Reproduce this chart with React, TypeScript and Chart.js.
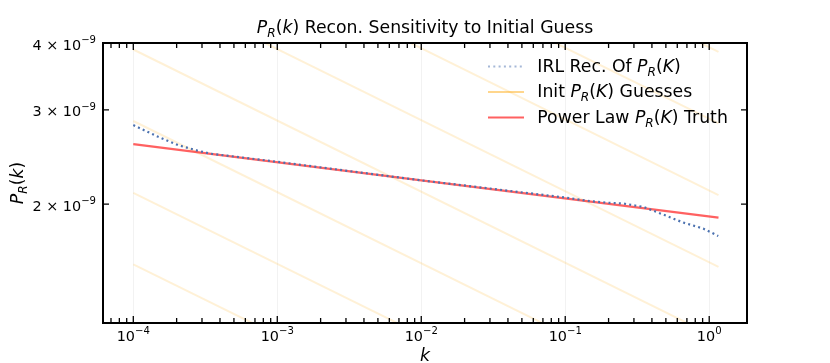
import React, { useEffect, useRef } from 'react';
import { Chart, registerables } from 'chart.js';

Chart.register(...registerables);

// ---- axis ranges ----
const X_MIN = 6.16e-5;
const X_MAX = 1.83;
const Y_MIN = 1.2e-9;
const Y_MAX = 4e-9;

// ---- IRL reconstruction (blue dotted) ----
const irlK = [1e-4, 1.49e-4, 2.05e-4, 2.83e-4, 3.41e-4, 1e-3, 1e-2, 1e-1, 0.15, 0.204, 0.253, 0.348, 0.479, 0.66, 0.908, 1.155];
const irlP = [2.81e-9, 2.672e-9, 2.578e-9, 2.516e-9, 2.486e-9, 2.40e-9, 2.216e-9, 2.058e-9, 2.026e-9, 2.011e-9, 2.006e-9, 1.977e-9, 1.913e-9, 1.848e-9, 1.801e-9, 1.745e-9];

// ---- power-law truth (red) ----
const truthK = [1e-4, 1e-2, 1.16];
const truthP = [2.59e-9, 2.216e-9, 1.888e-9];

// ---- initial guesses (faint orange) ----
const guessK = [1e-4, 1.16];
const guessStartP = [1.334e-8, 9.8e-9, 7.21e-9, 5.29e-9, 3.89e-9, 2.86e-9, 2.1e-9, 1.544e-9];
const guessEndP = [3.85e-9, 2.83e-9, 2.08e-9, 1.527e-9, 1.123e-9, 8.25e-10, 6.07e-10, 4.47e-10];

// ---- ticks ----
const xTickValues = [1e-4, 1e-3, 1e-2, 1e-1, 1];
const xTickExponents = ['\u22124', '\u22123', '\u22122', '\u22121', '0'];
const yTickValues = [2e-9, 3e-9, 4e-9];
const yTickMantissas = ['2', '3', '4'];

const FONT = '"DejaVu Sans", "Noto Sans", sans-serif';

const COLORS = {
  blue: '#4c72b0',
  blueLegend: 'rgba(76,114,176,0.5)',
  red: 'rgba(255,30,30,0.7)',
  orange: 'rgba(255,165,0,0.16)',
  orangeLegend: 'rgba(255,165,0,0.45)',
};

type Part = { t: string; it?: boolean; sub?: boolean; sup?: boolean };

const PRk: Part[] = [{ t: 'P', it: true }, { t: 'R', it: true, sub: true }, { t: '(' }, { t: 'k', it: true }, { t: ')' }];
const PRK: Part[] = [{ t: 'P', it: true }, { t: 'R', it: true, sub: true }, { t: '(' }, { t: 'K', it: true }, { t: ')' }];

const titleParts: Part[] = [...PRk, { t: ' Recon. Sensitivity to Initial Guess' }];
const legendItems: { parts: Part[]; color: string; dash: number[] }[] = [
  { parts: [{ t: 'IRL Rec. Of ' }, ...PRK], color: COLORS.blueLegend, dash: [2, 3.3] },
  { parts: [{ t: 'Init ' }, ...PRK, { t: ' Guesses' }], color: COLORS.orangeLegend, dash: [] },
  { parts: [{ t: 'Power Law ' }, ...PRK, { t: ' Truth' }], color: COLORS.red, dash: [] },
];

function drawRich(
  ctx: CanvasRenderingContext2D,
  parts: Part[],
  x: number,
  y: number,
  size: number,
  align: 'left' | 'center' | 'right'
) {
  const items = parts.map((p) => {
    const s = p.sub || p.sup ? size * 0.7 : size;
    const font = `${p.it ? 'italic ' : ''}${s}px ${FONT}`;
    ctx.font = font;
    const w = ctx.measureText(p.t).width;
    return { ...p, font, w };
  });
  const total = items.reduce((a, b) => a + b.w, 0);
  let cx = align === 'left' ? x : align === 'center' ? x - total / 2 : x - total;
  ctx.textAlign = 'left';
  ctx.textBaseline = 'alphabetic';
  for (const it of items) {
    const dy = it.sub ? size * 0.22 : it.sup ? -size * 0.46 : 0;
    ctx.font = it.font;
    ctx.fillText(it.t, cx, y + dy);
    cx += it.w;
  }
}

const decorPlugin = {
  id: 'decor',
  beforeDatasetsDraw(chart: any) {
    const { ctx, chartArea } = chart;
    const xs = chart.scales.x;
    ctx.save();
    ctx.strokeStyle = 'rgba(0,0,0,0.05)';
    ctx.lineWidth = 1;
    for (const v of xTickValues) {
      const px = Math.round(xs.getPixelForValue(v)) + 0.5;
      ctx.beginPath();
      ctx.moveTo(px, chartArea.top);
      ctx.lineTo(px, chartArea.bottom);
      ctx.stroke();
    }
    ctx.restore();
  },
  afterDatasetsDraw(chart: any) {
    const { ctx, chartArea } = chart;
    const { left, right, top, bottom } = chartArea;
    const xs = chart.scales.x;
    const ys = chart.scales.y;
    ctx.save();
    ctx.fillStyle = '#000';
    ctx.strokeStyle = '#000';

    // ticks (inward, all four sides)
    ctx.lineWidth = 1.3;
    for (let e = -5; e <= 0; e++) {
      for (let m = 1; m <= 9; m++) {
        const v = m * Math.pow(10, e);
        if (v < X_MIN || v > X_MAX) continue;
        const len = m === 1 ? 7 : 5;
        const px = xs.getPixelForValue(v);
        ctx.beginPath();
        ctx.moveTo(px, bottom);
        ctx.lineTo(px, bottom - len);
        ctx.moveTo(px, top);
        ctx.lineTo(px, top + len);
        ctx.stroke();
      }
    }
    for (const v of yTickValues) {
      const py = ys.getPixelForValue(v);
      ctx.beginPath();
      ctx.moveTo(left, py);
      ctx.lineTo(left + 6, py);
      ctx.moveTo(right, py);
      ctx.lineTo(right - 6, py);
      ctx.stroke();
    }

    // frame
    ctx.lineWidth = 2;
    ctx.strokeRect(left, top, right - left, bottom - top);

    // x tick labels
    xTickValues.forEach((v, i) => {
      const px = xs.getPixelForValue(v);
      drawRich(ctx, [{ t: '10' }, { t: xTickExponents[i], sup: true }], px, bottom + 18, 14.4, 'center');
    });
    // y tick labels
    yTickValues.forEach((v, i) => {
      const py = ys.getPixelForValue(v);
      drawRich(
        ctx,
        [{ t: yTickMantissas[i] + ' \u00d7 10' }, { t: '\u22129', sup: true }],
        left - 7,
        py + 6.5,
        14.4,
        'right'
      );
    });

    // axis titles
    drawRich(ctx, [{ t: 'k', it: true }], (left + right) / 2, 361, 17.3, 'center');
    ctx.save();
    ctx.translate(23, (top + bottom) / 2);
    ctx.rotate(-Math.PI / 2);
    drawRich(ctx, PRk, 0, 0, 17.3, 'center');
    ctx.restore();

    // title
    drawRich(ctx, titleParts, (left + right) / 2, 33.3, 17.3, 'center');

    // legend
    const handleX0 = 488;
    const handleX1 = 524;
    const textX = 537.3;
    const rowY = [66.5, 92, 117.5];
    legendItems.forEach((item, i) => {
      ctx.save();
      ctx.strokeStyle = item.color;
      ctx.lineWidth = item.dash.length ? 2.2 : 2;
      ctx.setLineDash(item.dash);
      ctx.beginPath();
      ctx.moveTo(handleX0, rowY[i]);
      ctx.lineTo(handleX1, rowY[i]);
      ctx.stroke();
      ctx.restore();
      ctx.fillStyle = '#000';
      drawRich(ctx, item.parts, textX, rowY[i] + 5.2, 17.3, 'left');
    });

    ctx.restore();
  },
};

export default function App() {
  const ref = useRef<HTMLCanvasElement>(null);

  useEffect(() => {
    const canvas = ref.current;
    if (!canvas) return;

    const toPts = (ks: number[], ps: number[]) => ks.map((k, i) => ({ x: k, y: ps[i] }));

    const guessSets = guessStartP.map((p0, i) => ({
      label: i === 0 ? 'Init Guesses' : `guess${i}`,
      data: toPts(guessK, [p0, guessEndP[i]]),
      borderColor: COLORS.orange,
      borderWidth: 2,
      pointRadius: 0,
      fill: false,
      tension: 0,
      clip: 0,
      order: 2,
    }));

    const chart = new Chart(canvas, {
      type: 'line',
      data: {
        datasets: [
          {
            label: 'IRL Rec.',
            data: toPts(irlK, irlP),
            borderColor: COLORS.blue,
            borderWidth: 2.2,
            borderDash: [2, 3.2],
            borderCapStyle: 'butt',
            pointRadius: 0,
            fill: false,
            tension: 0,
            clip: 0,
            order: 0,
          } as any,
          {
            label: 'Power Law Truth',
            data: toPts(truthK, truthP),
            borderColor: COLORS.red,
            borderWidth: 2.2,
            pointRadius: 0,
            fill: false,
            tension: 0,
            clip: 0,
            order: 1,
          } as any,
          ...(guessSets as any[]),
        ],
      },
      options: {
        animation: false,
        responsive: false,
        devicePixelRatio: 1,
        events: [],
        layout: { padding: { left: 103, right: 83, top: 43, bottom: 40 } },
        plugins: {
          legend: { display: false },
          title: { display: false },
          tooltip: { enabled: false },
        },
        scales: {
          x: { type: 'logarithmic', min: X_MIN, max: X_MAX, display: false },
          y: { type: 'logarithmic', min: Y_MIN, max: Y_MAX, display: false },
        },
      } as any,
      plugins: [decorPlugin],
    });

    return () => chart.destroy();
  }, []);

  return (
    <div style={{ position: 'fixed', left: 0, top: 0, width: 830, height: 363, background: '#fff' }}>
      <canvas ref={ref} width={830} height={363} style={{ display: 'block', width: 830, height: 363 }} />
    </div>
  );
}
